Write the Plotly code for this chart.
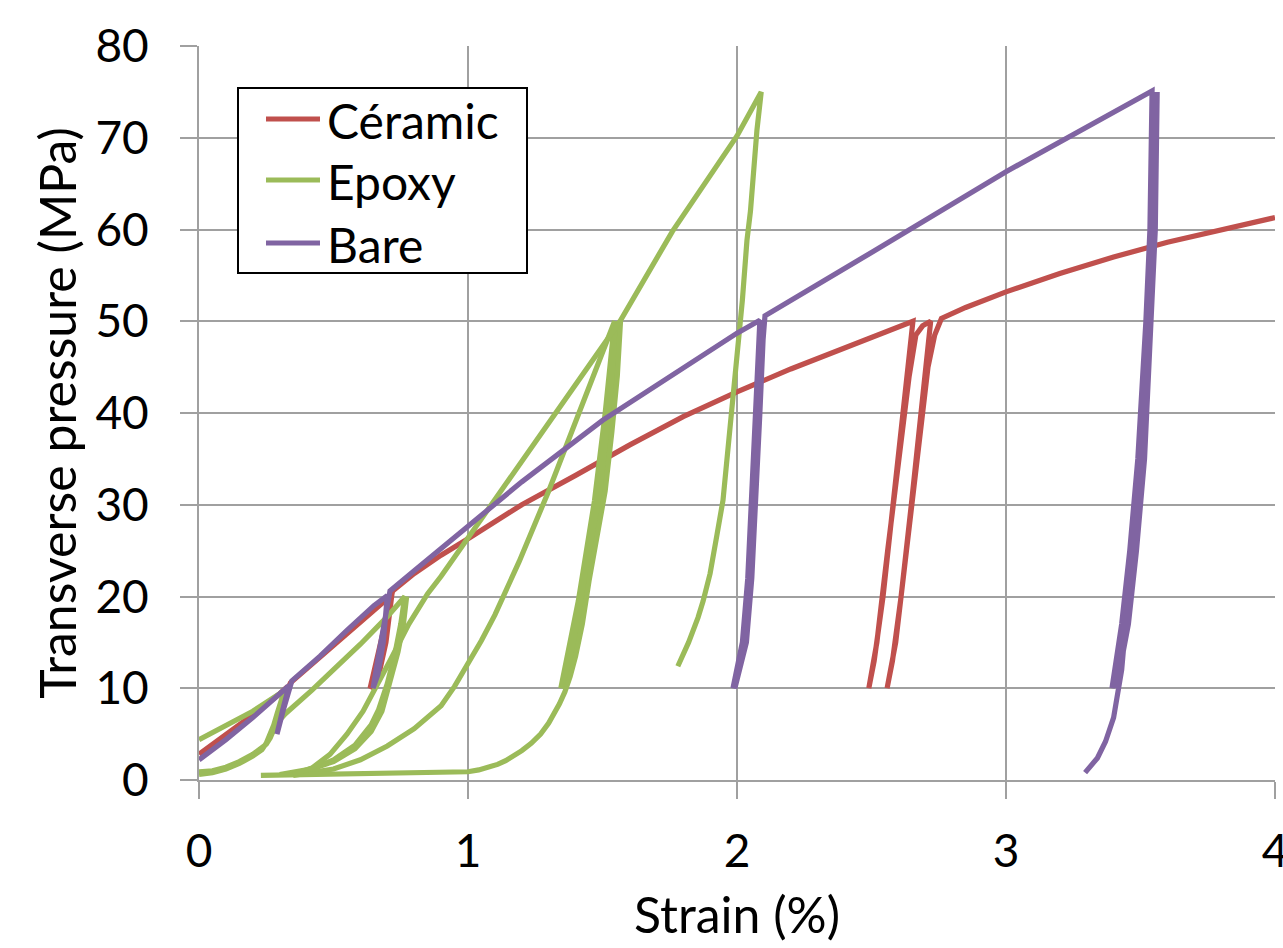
import plotly.graph_objects as go

N = None

# ---------------- data ----------------
series_names = ["Céramic", "Epoxy", "Bare"]
series_colors = ["#C0504D", "#9BBB59", "#8064A2"]

ceramic_strain = [0, 0.1, 0.2, 0.3, 0.33, 0.285, 0.31, 0.34, 0.45, 0.55, 0.65, 0.717,
                  0.695, 0.665, 0.636, 0.66, 0.69, 0.72, 0.8, 0.9, 1.0, 1.2, 1.4, 1.6,
                  1.8, 2.0, 2.2, 2.4, 2.55, 2.654, 2.617, 2.58, 2.543, 2.51, 2.49, 2.52,
                  2.56, 2.60, 2.64, 2.665, 2.69, 2.72, 2.685, 2.648, 2.61, 2.578, 2.558,
                  2.59, 2.63, 2.67, 2.71, 2.735, 2.76, 2.85, 3.0, 3.2, 3.4, 3.6, 3.8, 4.0]
ceramic_pressure = [2.8, 4.9, 7.1, 9.4, 10.2, 6.2, 8.5, 10.6, 13.4, 16, 18.5, 20.2,
                    15, 11, 10, 13, 17, 20.6, 22.5, 24.5, 26.3, 30, 33.2, 36.5,
                    39.6, 42.3, 44.8, 47.1, 48.8, 50, 40, 30, 20, 13, 10, 15,
                    25, 35, 44, 48.5, 49.5, 50, 40, 30, 20, 13, 10,
                    15, 25, 35, 45, 48.5, 50.3, 51.5, 53.2, 55.2, 57.0, 58.6, 60.0, 61.3]

epoxy_strain = [
    0, 0.1, 0.2, 0.3, 0.33, N,
    0, 0.05, 0.1, 0.15, 0.2, 0.234, 0.25, 0.264, 0.278, 0.29, 0.305, 0.32,
    0.30, 0.28, 0.265, 0.25, 0.225, 0.2, 0.15, 0.1, 0.05, 0, N,
    0.264, 0.29, 0.32, 0.357, 0.42, 0.506, 0.6, 0.7, 0.765,
    0.75, 0.73, 0.70, 0.66, 0.62, 0.56, 0.48, 0.40, 0.32,
    0.42, 0.5, 0.58, 0.64, 0.69, 0.72, 0.745, 0.76, 0.772,
    0.76, 0.74, 0.71, 0.68, 0.64, 0.58, 0.50, 0.40, 0.30, N,
    0.35, 0.42, 0.5, 0.6, 0.7, 0.8, 0.9, 0.95, 1.0, 1.05, 1.1, 1.19, 1.3, 1.4, 1.47, 1.545,
    1.51, 1.47, 1.41, 1.375, 1.345,
    1.385, 1.42, 1.48, 1.52, 1.553,
    1.52, 1.48, 1.42, 1.385, 1.355,
    1.395, 1.43, 1.49, 1.53, 1.56, N,
    0.23, 0.5, 0.8, 0.95, 1.0, 1.04, 1.08, 1.11, 1.14, 1.17, 1.2, 1.235, 1.27, 1.30, 1.32,
    1.34, 1.36, 1.38, 1.40, 1.425, 1.45, 1.48, 1.51, 1.535, 1.555, 1.567, N,
    0.35, 0.42, 0.487, 0.55, 0.61, 0.66, 0.71, 0.78, 0.85, 0.9, 1.08, 1.3, 1.565, 1.76, 2.0, 2.09,
    2.074, 2.05, 2.037, 2.02, 2.0, 1.985, 1.965, 1.948, 1.926, 1.9, 1.874, 1.855, 1.82, 1.78,
]
epoxy_pressure = [
    4.4, 5.9, 7.5, 9.4, 10, N,
    0.6, 0.8, 1.2, 1.8, 2.6, 3.3, 4.0, 4.9, 6.0, 7.2, 8.6, 10,
    7.0, 5.4, 4.6, 3.9, 3.3, 2.8, 2.0, 1.4, 1.0, 0.9, N,
    4.8, 6.2, 7.2, 8.1, 9.8, 12.2, 14.8, 17.8, 20,
    17, 14, 10.5, 7, 5, 3.2, 1.8, 1.0, 0.6,
    1.2, 2.2, 3.8, 6, 9, 12, 15.5, 18, 20,
    17, 14, 10.5, 7.5, 5.3, 3.4, 2.0, 1.1, 0.6, N,
    0.5, 0.8, 1.2, 2.2, 3.7, 5.6, 8.1, 10.2, 12.6, 15.2, 18, 23.8, 31.5, 39, 44.5, 50,
    40, 30.4, 19.5, 14, 10,
    14, 19.5, 30.4, 40, 50,
    40, 30.4, 19.5, 14, 10,
    14, 19.5, 30.4, 40, 50, N,
    0.5, 0.6, 0.7, 0.8, 0.9, 1.1, 1.4, 1.7, 2.1, 2.6, 3.2, 4.0, 5, 6.2, 7.2,
    8.3, 9.6, 11.3, 13.5, 17, 21.7, 26.5, 31.5, 38, 44, 50, N,
    0.6, 1.3, 2.8, 5, 7.5, 10.2, 13, 17, 20.3, 22.2, 29.7, 38.8, 50, 59.8, 70.2, 75,
    70.8, 62, 58.8, 52.3, 46, 41.4, 35.5, 30.5, 26.8, 22.5, 19.5, 17.7, 15, 12.4,
]

bare_strain = [0, 0.1, 0.2, 0.3, 0.335, 0.31, 0.29, 0.315, 0.345, 0.45, 0.55, 0.65, 0.70,
               0.685, 0.665, 0.647, 0.67, 0.69, 0.71, 0.8, 0.9, 1.0, 1.2, 1.5, 1.8, 2.0, 2.085,
               2.07, 2.055, 2.04, 2.02, 1.985,
               2.03, 2.05, 2.065, 2.08, 2.092,
               2.078, 2.062, 2.047, 2.027, 1.992,
               2.035, 2.055, 2.07, 2.085, 2.097, 2.104,
               2.5, 3.0, 3.543,
               3.535, 3.52, 3.49, 3.46, 3.43, 3.394,
               3.44, 3.475, 3.505, 3.53, 3.548, 3.558,
               3.55, 3.535, 3.50, 3.47, 3.44, 3.41,
               3.455, 3.485, 3.515, 3.54, 3.555, 3.562,
               3.548, 3.528, 3.495, 3.46, 3.43, 3.40, 3.37, 3.34, 3.294]
bare_pressure = [2.2, 4.4, 6.8, 9.3, 10.3, 7.5, 5.0, 7.8, 10.8, 13.5, 16.3, 19.0, 20.1,
                 15, 11.5, 10, 14, 17.5, 20.6, 22.8, 25.2, 27.6, 32.5, 39.2, 45, 48.7, 50.1,
                 40, 30, 22, 15, 10,
                 15, 22, 30, 40, 50,
                 40, 30, 22, 15, 10,
                 15, 22, 30, 40, 48, 50.6,
                 57.5, 66.3, 75.1,
                 60, 50, 35, 25, 17, 10,
                 17, 25, 35, 50, 60, 75,
                 60, 50, 35, 25, 17, 10,
                 17, 25, 35, 50, 60, 75,
                 60, 50, 35, 22, 12, 6.8, 4.2, 2.4, 0.8]

x_ticks = [0, 1, 2, 3, 4]
y_ticks = [0, 10, 20, 30, 40, 50, 60, 70, 80]

FONT = "Lato"
LW = 5.2

fig = go.Figure()
for name, color, xs, ys in zip(series_names, series_colors,
                               [ceramic_strain, epoxy_strain, bare_strain],
                               [ceramic_pressure, epoxy_pressure, bare_pressure]):
    fig.add_trace(go.Scatter(x=xs, y=ys, mode="lines", name=name, showlegend=False,
                             line=dict(color=color, width=LW), connectgaps=False))

axis_common = dict(showgrid=True, gridcolor="#A0A0A0", gridwidth=2,
                   ticks="outside", ticklen=17, tickwidth=2, tickcolor="#A0A0A0",
                   showline=True, linecolor="#A0A0A0", linewidth=2, zeroline=False,
                   ticklabeloverflow="allow",
                   tickfont=dict(family=FONT, size=46, color="black"))

fig.update_xaxes(range=[0, 4], tickvals=x_ticks, ticktext=[str(v) for v in x_ticks],
                 ticklabelstandoff=13,
                 title=dict(text="Strain (%)", font=dict(family=FONT, size=50, color="black"),
                            standoff=22),
                 **axis_common)
fig.update_yaxes(range=[0, 80], tickvals=y_ticks, ticktext=[str(v) for v in y_ticks],
                 ticklabelstandoff=22,
                 title=dict(text="Transverse pressure (MPa)",
                            font=dict(family=FONT, size=50, color="black"), standoff=3),
                 **axis_common)

# ---- legend box (drawn in paper coordinates) ----
L, T, PW, PH = 199, 46, 1076, 734
def px_x(p):
    return (p - L) / PW
def px_y(p):
    return (T + PH - p) / PH

fig.add_shape(type="rect", xref="paper", yref="paper",
              x0=px_x(238), x1=px_x(527), y0=px_y(273), y1=px_y(88),
              line=dict(color="black", width=2), fillcolor="white", layer="above")
legend_rows = [119, 180, 243]
for name, color, ry in zip(series_names, series_colors, legend_rows):
    fig.add_shape(type="line", xref="paper", yref="paper",
                  x0=px_x(266), x1=px_x(320), y0=px_y(ry), y1=px_y(ry),
                  line=dict(color=color, width=LW), layer="above")
    fig.add_annotation(xref="paper", yref="paper", x=px_x(325), y=px_y(ry + 1),
                       xanchor="left", yanchor="middle", text=name, showarrow=False,
                       font=dict(family=FONT, size=48, color="black"))

fig.update_layout(
    width=1283, height=948,
    margin=dict(l=199, r=8, t=46, b=168, autoexpand=False),
    plot_bgcolor="white", paper_bgcolor="white",
    font=dict(family=FONT, color="black"),
    showlegend=False,
)

fig.write_html("out.html")
